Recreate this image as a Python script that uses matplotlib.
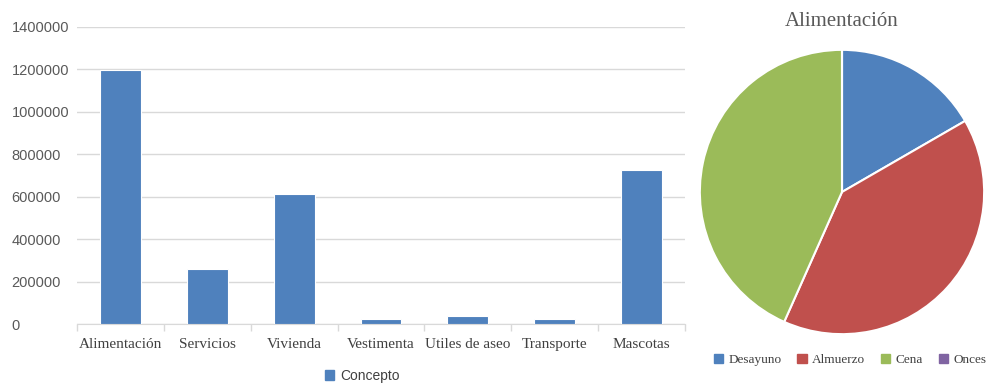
import matplotlib.pyplot as plt
from matplotlib.patches import Patch
import numpy as np

categorias = ["Alimentación", "Servicios", "Vivienda", "Vestimenta",
              "Utiles de aseo", "Transporte", "Mascotas"]
valores = [1195000, 258000, 613000, 22000, 38000, 22000, 726000]

comidas = ["Desayuno", "Almuerzo", "Cena", "Onces"]
gasto_comidas = [200000, 480000, 520000, 0]

azul = "#4F81BD"
colores_pie = ["#4F81BD", "#C0504D", "#9BBB59", "#8064A2"]
serif = "Liberation Serif"
sans = "Liberation Sans"

fig = plt.figure(figsize=(10.04, 3.83), dpi=100)

# --- barras ---
ax = fig.add_axes([77 / 1004, 59 / 383, 608 / 1004, 297 / 383])
x = np.arange(len(categorias))
ax.bar(x, valores, width=0.47, color=azul, edgecolor="white", linewidth=0.8, zorder=3)
ax.set_xlim(-0.5, len(categorias) - 0.5)
ax.set_ylim(0, 1400000)
ax.set_yticks(np.arange(0, 1400001, 200000))
ax.set_yticklabels([str(v) for v in range(0, 1400001, 200000)],
                   fontsize=10.5, family=sans, color="#595959", ha="left")
ax.yaxis.grid(True, color="#D9D9D9", linewidth=1, zorder=0)
ax.tick_params(axis="y", length=0, pad=47)
ax.set_xticks(x)
ax.set_xticklabels(categorias, fontsize=11, family=serif, color="#404040")
ax.set_xticks(np.arange(-0.5, len(categorias)), minor=True)
ax.tick_params(axis="x", which="major", length=0, pad=10)
ax.tick_params(axis="x", which="minor", length=5, color="#D9D9D9", width=1)
for s in ["top", "right", "left"]:
    ax.spines[s].set_visible(False)
ax.spines["bottom"].set_color("#D9D9D9")

leg = fig.legend(handles=[Patch(color=azul, label="Concepto")], loc="center",
                 bbox_to_anchor=(362 / 1004, 1 - 376 / 383), frameon=False,
                 handlelength=0.7, handleheight=0.7, handletextpad=0.4,
                 prop={"family": sans, "size": 10})
for t in leg.get_texts():
    t.set_color("#404040")

# --- torta ---
ax2 = fig.add_axes([(842 - 145) / 1004, (383 - 192 - 145) / 383, 290 / 1004, 290 / 383])
ax2.pie(gasto_comidas, colors=colores_pie, startangle=90, counterclock=False,
        wedgeprops={"edgecolor": "white", "linewidth": 1.5})
ax2.set_xlim(-1.02, 1.02)
ax2.set_ylim(-1.02, 1.02)
ax2.set_aspect("equal")
fig.text(842 / 1004, 1 - 22 / 383, "Alimentación", ha="center", va="center",
         fontsize=15, family=serif, color="#595959")

handles = [Patch(color=c, label=n) for c, n in zip(colores_pie, comidas)]
leg2 = fig.legend(handles=handles, loc="center", ncol=4,
                  bbox_to_anchor=(850 / 1004, 1 - 360 / 383), frameon=False,
                  handlelength=0.7, handleheight=0.7, handletextpad=0.4,
                  columnspacing=1.2, prop={"family": serif, "size": 9.5})
for t in leg2.get_texts():
    t.set_color("#404040")

fig.savefig("out.png", dpi=100)
